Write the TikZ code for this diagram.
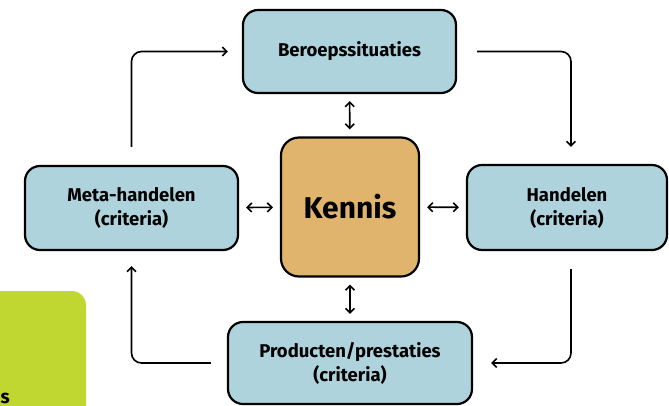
\documentclass[tikz,border=0pt]{standalone}
\usepackage{fontspec}
\setmainfont{Fira Sans}
\usetikzlibrary{arrows.meta, positioning}
\definecolor{boxblue}{HTML}{AED3DC}
\definecolor{kennisgold}{HTML}{E0B46C}
\definecolor{limegreen}{HTML}{BFD730}

\begin{document}
\begin{tikzpicture}[
    x=1pt, y=-1pt,
    box/.style={
        draw,
        line width=2.2pt,
        rounded corners=15pt,
        fill=boxblue,
        align=center,
        inner sep=0pt,
        font=\bfseries\fontsize{18.5}{24}\selectfont
    },
    core/.style={
        box,
        rounded corners=18pt,
        fill=kennisgold,
        font=\bfseries\fontsize{30}{34}\selectfont
    },
    link/.style={
        line width=1.6pt,
        rounded corners=10pt,
        -{Straight Barb[length=4.5pt, width=9pt]}
    },
    twoway/.style={
        line width=1.6pt,
        {Straight Barb[length=4.5pt, width=9pt]}-{Straight Barb[length=4.5pt, width=9pt]},
        shorten <=7pt, shorten >=7pt
    }
]
\clip (0,0) rectangle (669,405);

% Green tab (bottom left)
\fill[limegreen, rounded corners=14pt] (-20,291) -- (86,291) -- (86,430) -- (-20,430) -- cycle;
\node[font=\bfseries\fontsize{19}{20}\selectfont, anchor=base east, inner sep=0pt] (tab) at (10,403) {s};

% Boxes
\node[core, minimum width=138pt, minimum height=139pt] (kennis) at (350,207) {Kennis};
\node[box, minimum width=213pt, minimum height=83pt] (beroep) at (349.5,51.5) {Beroepssituaties};
\node[box, minimum width=213pt, minimum height=84pt] (meta) at (131.5,208) {Meta-handelen\\(criteria)};
\node[box, minimum width=200pt, minimum height=85pt] (handelen) at (567,207.5) {Handelen\\(criteria)};
\node[box, minimum width=244pt, minimum height=82pt] (producten) at (350,363) {Producten/prestaties\\(criteria)};

% Cycle
\draw[link, shorten <=18pt, shorten >=14pt] (meta.north) |- (beroep.west);
\draw[link, shorten <=20pt, shorten >=17pt] (beroep.east) -| ([xshift=4pt]handelen.north);
\draw[link, shorten <=18pt, shorten >=18pt] ([xshift=4pt]handelen.south) |- (producten.east);
\draw[link, shorten <=16pt, shorten >=15pt] (producten.west) -| (meta.south);

% Kennis links
\draw[twoway] (beroep) -- (kennis);
\draw[twoway] (meta) -- (kennis);
\draw[twoway] (kennis) -- (handelen);
\draw[twoway] (kennis) -- (producten);

\end{tikzpicture}
\end{document}
